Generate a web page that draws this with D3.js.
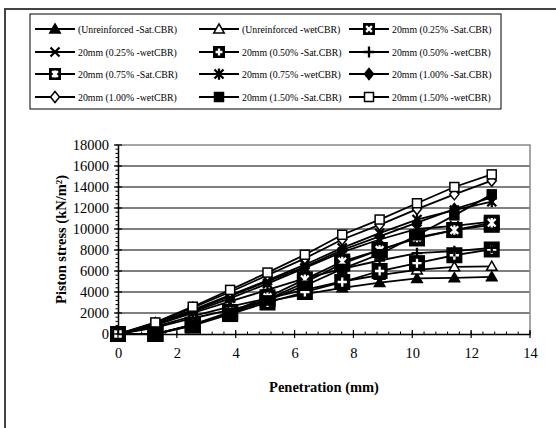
<!DOCTYPE html>
<html>
<head>
<meta charset="utf-8">
<script src="https://cdn.jsdelivr.net/npm/d3@7"></script>
<style>
  body { margin: 0; background: #fff; }
  svg text { font-family: "Liberation Serif", "Times New Roman", "DejaVu Serif", serif; }
</style>
</head>
<body>
<div id="chart"></div>
<script>
// DATA
const penetration = [0, 1.27, 2.54, 3.81, 5.08, 6.35, 7.62, 8.89, 10.16, 11.43, 12.7];

const unreinfSat = [0, 600, 1500, 2300, 3100, 3800, 4400, 4900, 5300, 5350, 5450];
const unreinfWet = [0, 700, 1700, 2600, 3400, 4200, 5000, 5600, 6100, 6400, 6450];
const r025Sat = [0, 0, 850, 2000, 3300, 4900, 6700, 8000, 9100, 9900, 10400];
const r025Wet = [0, 900, 2100, 3400, 4800, 6300, 7800, 9000, 10000, 10300, 10700];
const r050Sat = [0, 0, 800, 1900, 3000, 4000, 4950, 6000, 6750, 7500, 8050];
const r050Wet = [0, 850, 2000, 3100, 4200, 5300, 6200, 7000, 7700, 7900, 8200];
const r075Sat = [0, 0, 900, 2100, 3500, 5200, 6900, 8000, 9200, 9900, 10600];
const r075Wet = [0, 1000, 2300, 3700, 5100, 6600, 8200, 9600, 10900, 11800, 12600];
const r100Sat = [0, 950, 2200, 3600, 5000, 6400, 8000, 9300, 10600, 11900, 13000];
const r100Wet = [0, 1050, 2500, 4000, 5600, 7200, 9000, 10400, 11900, 13300, 14600];
const r150Sat = [0, 0, 900, 2000, 3200, 4600, 6200, 7600, 9400, 11300, 13300];
const r150Wet = [0, 1100, 2600, 4200, 5850, 7550, 9450, 10900, 12450, 14000, 15200];

const seriesNames = [
  "(Unreinforced -Sat.CBR)", "(Unreinforced -wetCBR)", "20mm (0.25% -Sat.CBR)",
  "20mm (0.25% -wetCBR)", "20mm (0.50% -Sat.CBR)", "20mm (0.50% -wetCBR)",
  "20mm (0.75% -Sat.CBR)", "20mm (0.75% -wetCBR)", "20mm (1.00% -Sat.CBR)",
  "20mm (1.00% -wetCBR)", "20mm (1.50% -Sat.CBR)", "20mm (1.50% -wetCBR)"
];
const seriesValues = [unreinfSat, unreinfWet, r025Sat, r025Wet, r050Sat, r050Wet,
  r075Sat, r075Wet, r100Sat, r100Wet, r150Sat, r150Wet];
const markerTypes = ["triFill", "triOpen", "sqX", "x", "sqPlus", "plus",
  "sqAst", "ast", "diaFill", "diaOpen", "sqFill", "sqOpen"];

const xTicks = [0, 2, 4, 6, 8, 10, 12, 14];
const yTicks = [0, 2000, 4000, 6000, 8000, 10000, 12000, 14000, 16000, 18000];

const FONT = '"Liberation Serif", "Times New Roman", serif';

// SVG
const width = 556, height = 428;
const svg = d3.select("#chart").append("svg")
  .attr("width", width).attr("height", height)
  .attr("font-family", FONT);

// outer chart border
svg.append("rect")
  .attr("x", 5).attr("y", 9).attr("width", 600).attr("height", 500)
  .attr("fill", "none").attr("stroke", "#444").attr("stroke-width", 2);

// SCALES
const xScale = d3.scaleLinear().domain([0, 14]).range([118, 530]);
const yScale = d3.scaleLinear().domain([0, 18000]).range([334, 145]);

// marker drawing
function drawMarker(g, type, cx, cy, big) {
  const m = g.append("g").attr("transform", `translate(${cx},${cy})`);
  const small = 4.5;
  if (type === "triFill" || type === "triOpen") {
    m.append("path").attr("d", d3.symbol(d3.symbolTriangle, 48)())
      .attr("transform", "translate(0,1)")
      .attr("fill", type === "triFill" ? "#000" : "#fff")
      .attr("stroke", "#000").attr("stroke-width", 1.5);
  } else if (type === "diaFill" || type === "diaOpen") {
    m.append("path").attr("d", `M0,${-small - 1}L${small},0L0,${small + 1}L${-small},0Z`)
      .attr("fill", type === "diaFill" ? "#000" : "#fff")
      .attr("stroke", "#000").attr("stroke-width", 1.5);
  } else if (type === "sqFill" || type === "sqOpen") {
    m.append("rect").attr("x", -small).attr("y", -small)
      .attr("width", small * 2).attr("height", small * 2)
      .attr("fill", type === "sqFill" ? "#000" : "#fff")
      .attr("stroke", "#000").attr("stroke-width", 1.5);
  } else {
    let col = "#000", r = small;
    if (type.startsWith("sq")) {
      m.append("rect").attr("x", -big / 2).attr("y", -big / 2)
        .attr("width", big).attr("height", big).attr("fill", "#000");
      col = "#fff";
      r = big * 0.24;
    }
    const kind = type.replace("sq", "").toLowerCase();
    let d = "";
    if (kind === "x" || kind === "ast") d += `M${-r},${-r}L${r},${r}M${-r},${r}L${r},${-r}`;
    if (kind === "plus") d += `M${-r * 1.2},0L${r * 1.2},0M0,${-r * 1.2}L0,${r * 1.2}`;
    if (kind === "ast") d += `M0,${-r * 1.25}L0,${r * 1.25}`;
    m.append("path").attr("d", d).attr("fill", "none")
      .attr("stroke", col).attr("stroke-width", 2.3);
  }
}

// GRIDLINES
svg.append("g").selectAll("line")
  .data(yTicks.filter(d => d > 0 && d < 18000))
  .join("line")
  .attr("x1", xScale(0)).attr("x2", xScale(14))
  .attr("y1", d => yScale(d)).attr("y2", d => yScale(d))
  .attr("stroke", "#000").attr("stroke-width", 1);

// plot area border (top/right)
svg.append("path")
  .attr("d", `M${xScale(0)},${yScale(18000)}H${xScale(14)}V${yScale(0)}`)
  .attr("fill", "none").attr("stroke", "#888").attr("stroke-width", 1.5);

// LINES
const line = d3.line().x((d, i) => xScale(penetration[i])).y(d => yScale(d));
svg.append("g").selectAll("path")
  .data(seriesValues)
  .join("path")
  .attr("d", d => line(d))
  .attr("fill", "none").attr("stroke", "#000").attr("stroke-width", 1.8);

// MARKERS
const markG = svg.append("g");
seriesValues.forEach((vals, si) => {
  vals.forEach((v, i) => {
    drawMarker(markG, markerTypes[si], xScale(penetration[i]), yScale(v), 16);
  });
});

// X AXIS
const xAxis = svg.append("g").attr("transform", `translate(0,${yScale(0)})`);
xAxis.call(d3.axisBottom(xScale).tickValues(xTicks).tickSize(0).tickPadding(14))
  .attr("font-family", FONT).attr("font-size", 14.5)
  .call(g => g.select(".domain").attr("stroke", "#000").attr("stroke-width", 1.5));
xAxis.selectAll(".maj").data(xTicks).join("line").attr("class", "maj")
  .attr("x1", d => xScale(d)).attr("x2", d => xScale(d))
  .attr("y1", -4).attr("y2", 4).attr("stroke", "#000").attr("stroke-width", 1.2);
xAxis.selectAll(".min").data(d3.range(0, 14.01, 0.4)).join("line").attr("class", "min")
  .attr("x1", d => xScale(d)).attr("x2", d => xScale(d))
  .attr("y1", -2.5).attr("y2", 0).attr("stroke", "#000");

// Y AXIS
const yAxis = svg.append("g").attr("transform", `translate(${xScale(0)},0)`);
yAxis.call(d3.axisLeft(yScale).tickValues(yTicks).tickSize(0).tickPadding(9).tickFormat(d3.format("d")))
  .attr("font-family", FONT).attr("font-size", 14.5)
  .call(g => g.select(".domain").attr("stroke", "#000").attr("stroke-width", 1.5));
yAxis.selectAll(".maj").data(yTicks).join("line").attr("class", "maj")
  .attr("y1", d => yScale(d)).attr("y2", d => yScale(d))
  .attr("x1", -4).attr("x2", 4).attr("stroke", "#000").attr("stroke-width", 1.2);
yAxis.selectAll(".min").data(d3.range(0, 18001, 400)).join("line").attr("class", "min")
  .attr("y1", d => yScale(d)).attr("y2", d => yScale(d))
  .attr("x1", -2.5).attr("x2", 0).attr("stroke", "#000");

// AXIS TITLES
svg.append("text")
  .attr("x", (xScale(0) + xScale(14)) / 2).attr("y", 392)
  .attr("text-anchor", "middle").attr("font-weight", "bold").attr("font-size", 14.5)
  .text("Penetration (mm)");
svg.append("text")
  .attr("transform", `translate(66,${(yScale(0) + yScale(18000)) / 2}) rotate(-90)`)
  .attr("text-anchor", "middle").attr("font-weight", "bold").attr("font-size", 14.5)
  .text("Piston stress (kN/m²)");

// LEGEND
const legend = svg.append("g");
legend.append("rect")
  .attr("x", 30).attr("y", 14).attr("width", 471).attr("height", 95)
  .attr("fill", "#fff").attr("stroke", "#000").attr("stroke-width", 1);
const colX = [35, 199, 349];
const rowY = [29, 52, 74, 97];
seriesNames.forEach((name, i) => {
  const cx = colX[i % 3], cy = rowY[Math.floor(i / 3)];
  const g = legend.append("g");
  g.append("line").attr("x1", cx).attr("x2", cx + 40).attr("y1", cy).attr("y2", cy)
    .attr("stroke", "#000").attr("stroke-width", 1.8);
  drawMarker(g, markerTypes[i], cx + 20, cy, 12);
  g.append("text").attr("x", cx + 43).attr("y", cy + 3.5)
    .attr("font-size", 9.8)
    .text(name);
});
</script>
</body>
</html>
